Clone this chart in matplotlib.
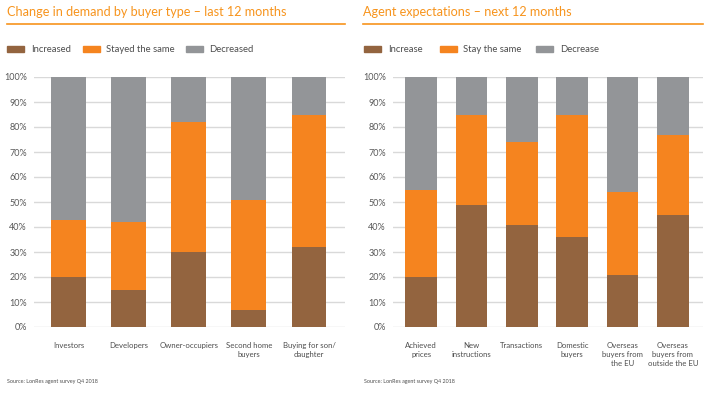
import matplotlib
matplotlib.use("Agg")
import matplotlib.pyplot as plt
from matplotlib.patches import Rectangle
from matplotlib.lines import Line2D
import numpy as np

plt.rcParams['font.family'] = ['Lato', 'DejaVu Sans']

# ---- data ----
left_title = "Change in demand by buyer type – last 12 months"
left_cats = ["Investors", "Developers", "Owner-occupiers", "Second home\nbuyers", "Buying for son/\ndaughter"]
left_series = ["Increased", "Stayed the same", "Decreased"]
left_increased = [20, 15, 30, 7, 32]
left_stayed = [23, 27, 52, 44, 53]
left_decreased = [57, 58, 18, 49, 15]

right_title = "Agent expectations – next 12 months"
right_cats = ["Achieved\nprices", "New\ninstructions", "Transactions", "Domestic\nbuyers",
              "Overseas\nbuyers from\nthe EU", "Overseas\nbuyers from\noutside the EU"]
right_series = ["Increase", "Stay the same", "Decrease"]
right_increase = [20, 49, 41, 36, 21, 45]
right_stay = [35, 36, 33, 49, 33, 32]
right_decrease = [45, 15, 26, 15, 46, 23]

yticks = [0, 10, 20, 30, 40, 50, 60, 70, 80, 90, 100]
ytick_labels = [f"{v}%" for v in yticks]
source = "Source: LonRes agent survey Q4 2018"

# ---- style ----
C_BROWN = "#93643F"
C_ORANGE = "#F5841F"
C_GREY = "#939598"
C_TITLE = "#F7941D"
C_TEXT = "#4D4D4D"
C_TICK = "#595959"
C_GRID = "#D9D9D9"

W, H = 710, 398
fig = plt.figure(figsize=(W / 100, H / 100), dpi=100)


def fx(px):
    return px / W


def fy(py):
    return 1 - py / H


def panel(left_px, right_px, cats, series_vals, labels, title, width, xlim,
          legend_pos, title_x, line_x0, line_x1, src_x):
    ax = fig.add_axes([fx(left_px), fy(327), fx(right_px - left_px), fy(77) - fy(327)])
    x = np.arange(len(cats))
    bottom = np.zeros(len(cats))
    for vals, col in zip(series_vals, [C_BROWN, C_ORANGE, C_GREY]):
        ax.bar(x, vals, width, bottom=bottom, color=col, zorder=3, linewidth=0)
        bottom += np.array(vals)
    ax.set_ylim(0, 100)
    ax.set_xlim(*xlim)
    ax.set_yticks(yticks)
    ax.set_yticklabels(ytick_labels)
    ax.set_xticks(x)
    ax.set_xticklabels(cats, linespacing=1.3)
    ax.tick_params(axis='y', length=0, pad=5, labelsize=6.5, colors=C_TICK)
    ax.tick_params(axis='x', length=0, pad=11, labelsize=5.6, colors=C_TEXT)
    for lab in ax.get_xticklabels():
        lab.set_va('top')
    ax.grid(axis='y', color=C_GRID, linewidth=1.0, zorder=0)
    for s in ax.spines.values():
        s.set_visible(False)
    ax.set_facecolor('none')

    # title and underline
    fig.text(fx(title_x), fy(12), title, color=C_TITLE, fontsize=9.1,
             ha='left', va='center')
    fig.add_artist(Line2D([fx(line_x0), fx(line_x1)], [fy(24), fy(24)],
                          color=C_TITLE, linewidth=1.2))
    # legend
    for (px, tx), lab, col in zip(legend_pos, labels, [C_BROWN, C_ORANGE, C_GREY]):
        fig.add_artist(Rectangle((fx(px), fy(52)), fx(17), fy(46) - fy(52),
                                 color=col, transform=fig.transFigure))
        fig.text(fx(tx), fy(49), lab, color=C_TEXT, fontsize=6.8, ha='left', va='center')
    fig.text(fx(src_x), fy(381), source, color=C_TEXT, fontsize=3.9, ha='left', va='center')
    return ax


panel(34, 345, left_cats, [left_increased, left_stayed, left_decreased], left_series,
      left_title, 0.58, (-0.576, 4.6),
      [(7, 31), (83, 106), (186, 209)], 7, 7, 345, 7)
panel(393, 703, right_cats, [right_increase, right_stay, right_decrease], right_series,
      right_title, 0.63, (-0.56, 5.6),
      [(364, 388), (440, 463), (536, 560)], 363, 363, 703, 364)

fig.savefig("out.png", dpi=100)
